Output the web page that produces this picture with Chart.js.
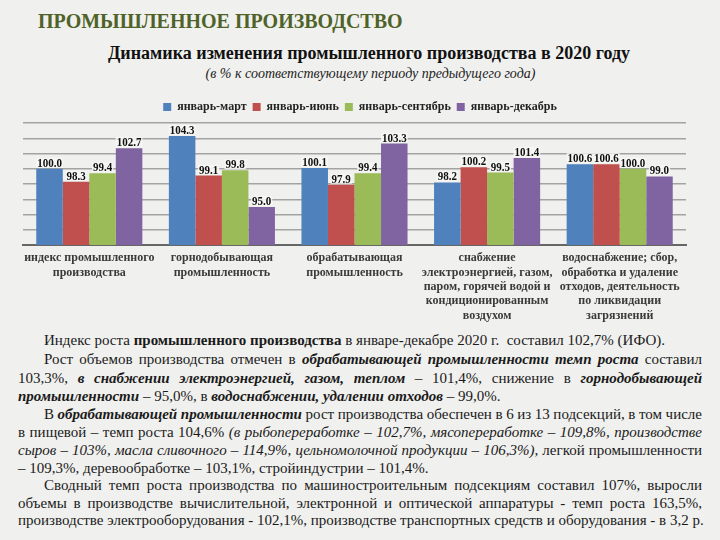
<!DOCTYPE html>
<html>
<head>
<meta charset="utf-8">
<script src="https://cdn.jsdelivr.net/npm/chart.js@4/dist/chart.umd.min.js"></script>
<style>
    html, body {margin: 0; padding: 0;}
    body {width: 720px; height: 540px; background: #f0f0ee; position: relative; overflow: hidden; color: #1a1a1a;
        font-family: Liberation Serif, Times New Roman, serif;}
    .title {position: absolute; left: 38px; top: 10px; font-size: 20px; font-weight: bold; color: #4f6228;}
    .subtitle {position: absolute; left: 0; width: 738px; top: 43px; text-align: center; font-size: 18px; font-weight: bold; color: #111;}
    .note {position: absolute; left: 0; width: 741px; top: 66px; text-align: center; font-size: 14px; font-style: italic; color: #222;}
    .chart-box {position: absolute; left: 0; top: 88px; width: 720px; height: 241px;}
    .ln {position: absolute; left: 18px; width: 684px; font-size: 15px; line-height: 18px; white-space: nowrap;}
    .ln.j {text-align: justify; text-align-last: justify; white-space: normal; word-spacing: -2px;}
    .ln.in {left: 44px; width: 658px;}
    .b {font-weight: bold;}
    .bi {font-weight: bold; font-style: italic;}
    .i {font-style: italic;}
</style>
</head>
<body>
<div class="title">ПРОМЫШЛЕННОЕ ПРОИЗВОДСТВО</div>
<div class="subtitle">Динамика изменения промышленного производства в 2020 году</div>
<div class="note">(в % к соответствующему периоду предыдущего года)</div>
<div class="chart-box"><canvas id="industryChart"></canvas></div>

<div class="ln in" style="top:331px">Индекс роста <span class="b">промышленного производства</span> в январе-декабре 2020 г.&nbsp; составил 102,7% (ИФО).</div>
<div class="ln in j" style="top:350px">Рост объемов производства отмечен в <span class="bi">обрабатывающей промышленности темп роста</span> составил</div>
<div class="ln j" style="top:369px">103,3%, <span class="bi">в снабжении электроэнергией, газом, теплом</span> – 101,4%, снижение в <span class="bi">горнодобывающей</span></div>
<div class="ln" style="top:387px"><span class="bi">промышленности</span> – 95,0%, в <span class="bi">водоснабжении, удалении отходов</span> – 99,0%.</div>
<div class="ln in j" style="top:405px">В <span class="bi">обрабатывающей промышленности</span> рост производства обеспечен в 6 из 13 подсекций, в том числе</div>
<div class="ln j" style="top:423px">в пищевой – темп роста 104,6% <span class="i">(в рыбопереработке – 102,7%, мясопереработке – 109,8%, производстве</span></div>
<div class="ln j" style="top:441px"><span class="i">сыров – 103%, масла сливочного – 114,9%, цельномолочной продукции – 106,3%),</span> легкой промышленности</div>
<div class="ln" style="top:459px">– 109,3%, деревообработке – 103,1%, стройиндустрии – 101,4%.</div>
<div class="ln in j" style="top:476px">Сводный темп роста производства по машиностроительным подсекциям составил 107%, выросли</div>
<div class="ln j" style="top:494px">объемы в производстве вычислительной, электронной и оптической аппаратуры - темп роста 163,5%,</div>
<div class="ln" style="top:511px">производстве электрооборудования - 102,1%, производстве транспортных средств и оборудования - в 3,2 р.</div>

<script>
    // categories, as they are broken into lines under the axis
    const categories = [
        ['индекс промышленного', 'производства'],
        ['горнодобывающая', 'промышленность'],
        ['обрабатывающая', 'промышленность'],
        ['снабжение', 'электроэнергией, газом,', 'паром, горячей водой и', 'кондиционированным', 'воздухом'],
        ['водоснабжение; сбор,', 'обработка и удаление', 'отходов, деятельность', 'по ликвидации', 'загрязнений']
    ]

    const periods = ['январь-март', 'январь-июнь', 'январь-сентябрь', 'январь-декабрь']

    const janMar = [100.0, 104.3, 100.1, 98.2, 100.6]
    const janJun = [98.3, 99.1, 97.9, 100.2, 100.6]
    const janSep = [99.4, 99.8, 99.4, 99.5, 100.0]
    const janDec = [102.7, 95.0, 103.3, 101.4, 99.0]

    const barColors = ['#4f81bd', '#c0504d', '#9bbb59', '#8064a2']

    const serif = 'Liberation Serif, Times New Roman, serif'

    // value labels on top of every bar, taken from the bar elements
    // (squeezed a little so neighbours like 100.6 / 100.6 don't run together)
    const valueLabels = {
        id: 'valueLabels',
        afterDatasetsDraw(chart) {
            const ctx = chart.ctx
            const squeeze = 0.88
            ctx.save()
            ctx.font = 'bold 12.5px ' + serif
            ctx.textAlign = 'center'
            ctx.textBaseline = 'alphabetic'
            chart.data.datasets.forEach((ds, di) => {
                chart.getDatasetMeta(di).data.forEach((bar, i) => {
                    const text = ds.data[i].toFixed(1)
                    const w = ctx.measureText(text).width * squeeze
                    ctx.fillStyle = 'rgba(246,246,244,0.9)'
                    ctx.fillRect(bar.x - w / 2 - 1, bar.y - 11, w + 2, 10)
                    ctx.save()
                    ctx.translate(bar.x, bar.y - 2)
                    ctx.scale(squeeze, 1)
                    ctx.fillStyle = '#111'
                    ctx.fillText(text, 0, 0)
                    ctx.restore()
                })
            })
            ctx.restore()
        }
    }

    const seriesValues = [janMar, janJun, janSep, janDec]

    new Chart(document.getElementById('industryChart'), {
        type: 'bar',
        data: {
            labels: categories,
            datasets: periods.map((name, idx) => ({
                label: name,
                data: seriesValues[idx],
                backgroundColor: barColors[idx],
                borderWidth: 0,
                barPercentage: 1,
                categoryPercentage: 0.8
            }))
        },
        options: {
            responsive: true,
            maintainAspectRatio: false,
            animation: false,
            layout: {padding: {top: 7, right: 0, bottom: 0, left: 0}},
            plugins: {
                tooltip: {enabled: false},
                legend: {
                    position: 'top',
                    labels: {
                        boxWidth: 8,
                        boxHeight: 8,
                        padding: 6,
                        color: '#222',
                        font: {family: serif, size: 12, weight: 'bold'}
                    }
                }
            },
            scales: {
                x: {
                    grid: {display: false, drawTicks: false},
                    border: {color: '#666', width: 2},
                    ticks: {
                        color: '#3a3a3a',
                        font: {family: serif, size: 12, weight: 'bold', lineHeight: 1.2},
                        padding: 6,
                        maxRotation: 0,
                        autoSkip: false
                    }
                },
                y: {
                    min: 90,
                    max: 106,
                    ticks: {display: false, stepSize: 2},
                    grid: {color: '#a3a3a3', lineWidth: 1.5, drawTicks: false},
                    border: {display: false},
                    afterFit: scale => { scale.width = 23 }
                },
                // empty right axis, only keeps the margin so the legend stays centred on the page
                yRight: {
                    type: 'linear',
                    position: 'right',
                    ticks: {display: false},
                    grid: {display: false, drawTicks: false},
                    border: {display: false},
                    afterFit: scale => { scale.width = 34 }
                }
            }
        },
        plugins: [valueLabels]
    })
</script>
</body>
</html>
